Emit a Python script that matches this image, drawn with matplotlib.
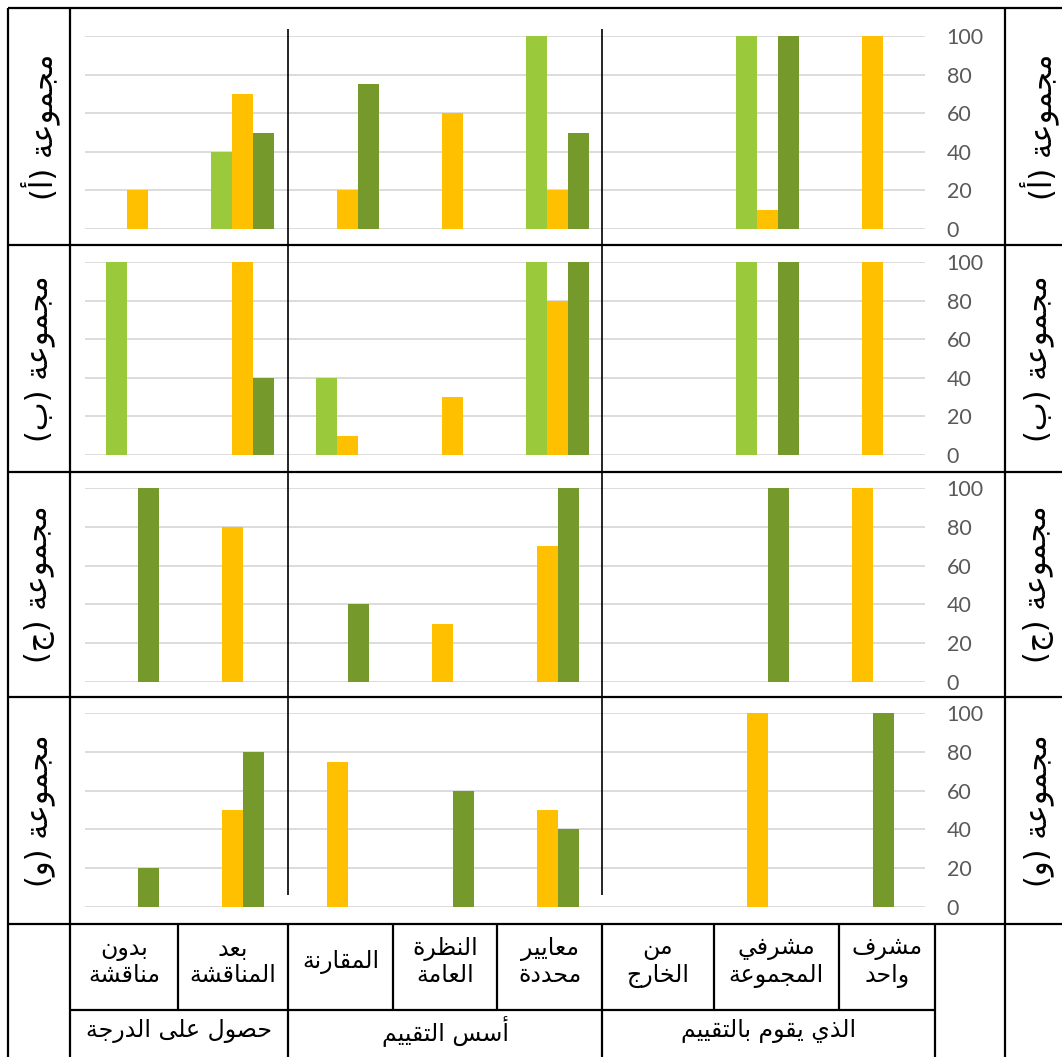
import matplotlib
matplotlib.use("Agg")
import matplotlib.pyplot as plt
import numpy as np

# ---------------------------------------------------------------- data
categories = ["بدون\nمناقشة", "بعد\nالمناقشة", "المقارنة", "النظرة\nالعامة",
              "معايير\nمحددة", "من\nالخارج", "مشرفي\nالمجموعة", "مشرف\nواحد"]
group_names = ["حصول على الدرجة", "أسس التقييم", "الذي يقوم بالتقييم"]
row_labels = ["مجموعة (أ)", "مجموعة (ب)", "مجموعة (ج)", "مجموعة (و)"]
y_ticks = [0, 20, 40, 60, 80, 100]

a_light = [0, 40, 0, 0, 100, 0, 100, 0]
a_yellow = [20, 70, 20, 60, 20, 0, 10, 100]
a_dark = [0, 50, 75, 0, 50, 0, 100, 0]

b_light = [100, 0, 40, 0, 100, 0, 100, 0]
b_yellow = [0, 100, 10, 30, 80, 0, 0, 100]
b_dark = [0, 40, 0, 0, 100, 0, 100, 0]

c_yellow = [0, 80, 0, 30, 70, 0, 0, 100]
c_dark = [100, 0, 40, 0, 100, 0, 100, 0]

d_yellow = [0, 50, 75, 0, 50, 0, 100, 0]
d_dark = [20, 80, 0, 60, 40, 0, 0, 100]

LIGHT = "#9ACA3C"
YELLOW = "#FFC000"
DARK = "#76992C"

# ------------------------------------------------- Arabic shaping helper
# isolated, final, initial, medial presentation forms
FORMS = {
    "ا": ("\uFE8D", "\uFE8E", None, None),
    "أ": ("\uFE83", "\uFE84", None, None),
    "ب": ("\uFE8F", "\uFE90", "\uFE91", "\uFE92"),
    "ة": ("\uFE93", "\uFE94", None, None),
    "ت": ("\uFE95", "\uFE96", "\uFE97", "\uFE98"),
    "ج": ("\uFE9D", "\uFE9E", "\uFE9F", "\uFEA0"),
    "ح": ("\uFEA1", "\uFEA2", "\uFEA3", "\uFEA4"),
    "خ": ("\uFEA5", "\uFEA6", "\uFEA7", "\uFEA8"),
    "د": ("\uFEA9", "\uFEAA", None, None),
    "ذ": ("\uFEAB", "\uFEAC", None, None),
    "ر": ("\uFEAD", "\uFEAE", None, None),
    "س": ("\uFEB1", "\uFEB2", "\uFEB3", "\uFEB4"),
    "ش": ("\uFEB5", "\uFEB6", "\uFEB7", "\uFEB8"),
    "ص": ("\uFEB9", "\uFEBA", "\uFEBB", "\uFEBC"),
    "ظ": ("\uFEC5", "\uFEC6", "\uFEC7", "\uFEC8"),
    "ع": ("\uFEC9", "\uFECA", "\uFECB", "\uFECC"),
    "ف": ("\uFED1", "\uFED2", "\uFED3", "\uFED4"),
    "ق": ("\uFED5", "\uFED6", "\uFED7", "\uFED8"),
    "ل": ("\uFEDD", "\uFEDE", "\uFEDF", "\uFEE0"),
    "م": ("\uFEE1", "\uFEE2", "\uFEE3", "\uFEE4"),
    "ن": ("\uFEE5", "\uFEE6", "\uFEE7", "\uFEE8"),
    "و": ("\uFEED", "\uFEEE", None, None),
    "ى": ("\uFEEF", "\uFEF0", None, None),
    "ي": ("\uFEF1", "\uFEF2", "\uFEF3", "\uFEF4"),
    "ـ": ("ـ", "ـ", "ـ", "ـ"),
}
LAM_ALEF = {"ا": ("\uFEFB", "\uFEFC"), "أ": ("\uFEF7", "\uFEF8")}
MIRROR = {"(": ")", ")": "("}


def _dual(ch):
    return ch in FORMS and FORMS[ch][2] is not None


def shape_line(s):
    out = []
    i = 0
    n = len(s)
    while i < n:
        c = s[i]
        if c not in FORMS:
            out.append(MIRROR.get(c, c))
            i += 1
            continue
        prev = s[i - 1] if i > 0 else ""
        joins_prev = _dual(prev)
        if c == "ل" and i + 1 < n and s[i + 1] in LAM_ALEF:
            iso, fin = LAM_ALEF[s[i + 1]]
            out.append(fin if joins_prev else iso)
            i += 2
            continue
        nxt = s[i + 1] if i + 1 < n else ""
        joins_next = _dual(c) and nxt in FORMS
        iso, fin, ini, med = FORMS[c]
        if joins_prev and joins_next:
            out.append(med)
        elif joins_prev:
            out.append(fin)
        elif joins_next:
            out.append(ini)
        else:
            out.append(iso)
        i += 1
    return "".join(reversed(out))


def ar(s):
    return "\n".join(shape_line(line) for line in s.split("\n"))


# ---------------------------------------------------------------- figure
W, H = 1062, 1057
fig = plt.figure(figsize=(W / 100, H / 100), dpi=100)
fig.patch.set_facecolor("white")

# chart panels: (pixel row of the 100 line, pixel row of the 0 line)
panel_rows = [(36, 229), (262, 455), (488, 682), (713, 907)]
panel_series = [
    [(a_light, LIGHT), (a_yellow, YELLOW), (a_dark, DARK)],
    [(b_light, LIGHT), (b_yellow, YELLOW), (b_dark, DARK)],
    [(c_yellow, YELLOW), (c_dark, DARK)],
    [(d_yellow, YELLOW), (d_dark, DARK)],
]
x_left, x_right = 85, 925
x = np.arange(len(categories))
bar_w = 0.2

for (top, bot), series in zip(panel_rows, panel_series):
    ax = fig.add_axes([x_left / W, 1 - bot / H, (x_right - x_left) / W, (bot - top) / H])
    k = len(series)
    for j, (vals, col) in enumerate(series):
        off = (j - (k - 1) / 2) * bar_w
        ax.bar(x + off, vals, width=bar_w, color=col, linewidth=0, zorder=3)
    ax.set_xlim(-0.5, len(categories) - 0.5)
    ax.set_ylim(0, 100)
    ax.set_yticks(y_ticks)
    ax.set_xticks([])
    ax.yaxis.tick_right()
    ax.tick_params(axis="y", length=0, pad=15.5, labelsize=15.5, labelcolor="#595959")
    for lab in ax.get_yticklabels():
        lab.set_fontfamily("Lato")
    ax.yaxis.grid(True, color="#D9D9D9", linewidth=1.3, zorder=0)
    for sp in ax.spines.values():
        sp.set_visible(False)
    ax.patch.set_alpha(0)

# overlay in pixel coordinates for the table frame and labels
ov = fig.add_axes([0, 0, 1, 1], zorder=10)
ov.set_xlim(0, W)
ov.set_ylim(H, 0)
ov.axis("off")
ov.patch.set_alpha(0)

lw = 1.6
# horizontal rules
for yy in [8, 245, 472, 697, 924]:
    ov.plot([8, W], [yy, yy], color="black", lw=lw, solid_capstyle="butt")
ov.plot([70, 935], [1010, 1010], color="black", lw=lw, solid_capstyle="butt")
# full-height verticals
for xx in [8, 70, 1005]:
    ov.plot([xx, xx], [8, H], color="black", lw=lw, solid_capstyle="butt")
# category cell separators
for xx in [178, 393, 497, 714, 839]:
    ov.plot([xx, xx], [924, 1010], color="black", lw=lw, solid_capstyle="butt")
# group separators in the bottom rows
for xx in [288, 602, 935]:
    ov.plot([xx, xx], [924, H], color="black", lw=lw, solid_capstyle="butt")
# group dividers running through the chart panels
for xx in [288, 602]:
    ov.plot([xx, xx], [29, 895], color="black", lw=1.2, solid_capstyle="butt")

# category labels
cell_edges = [70, 178, 288, 393, 497, 602, 714, 839, 935]
for i, cat in enumerate(categories):
    cx = (cell_edges[i] + cell_edges[i + 1]) / 2
    ov.text(cx, 962, ar(cat), ha="center", va="center", fontsize=17,
            family="DejaVu Sans", linespacing=1.15, multialignment="center")

# group labels
group_edges = [70, 288, 602, 935]
for i, g in enumerate(group_names):
    cx = (group_edges[i] + group_edges[i + 1]) / 2
    ov.text(cx, 1031, ar(g), ha="center", va="center", fontsize=17, family="DejaVu Sans")

# row labels on both sides
row_edges = [8, 245, 472, 697, 924]
for i, r in enumerate(row_labels):
    cy = (row_edges[i] + row_edges[i + 1]) / 2
    for cx in (40, 1039):
        ov.text(cx, cy, ar(r), ha="center", va="center", rotation=90,
                fontsize=22, family="DejaVu Sans")

fig.savefig("out.png", dpi=100, facecolor="white")
